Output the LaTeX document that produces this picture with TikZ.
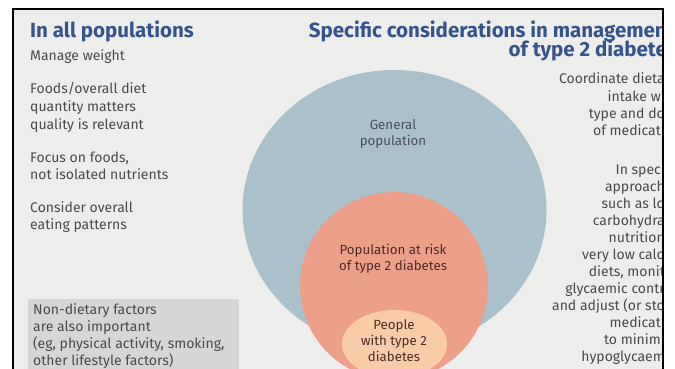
\documentclass[tikz,border=0pt]{standalone}
\usepackage{fontspec}
\setmainfont{Fira Sans}
\definecolor{panel}{HTML}{EDEDEB}
\definecolor{genpop}{HTML}{AAC0CA}
\definecolor{risk}{HTML}{ECA08A}
\definecolor{t2d}{HTML}{F8CCA8}
\definecolor{headblue}{HTML}{36548C}
\definecolor{txt}{HTML}{4A4A4A}
\definecolor{boxgrey}{HTML}{D6D6D4}
\definecolor{slate}{HTML}{46505A}
\definecolor{brown}{HTML}{4E2E24}
\begin{document}
\begin{tikzpicture}[x=1pt,y=-1pt,
  body/.style={font=\fontsize{14}{17.5}\selectfont, text=txt, inner sep=0pt},
  head/.style={font=\fontsize{20.5}{22}\selectfont\bfseries, text=headblue, inner sep=0pt},
  inlabel/.style={font=\fontsize{13.3}{16}\selectfont, align=center, inner sep=0pt}]
\useasboundingbox (0,0) rectangle (675,369);
\fill[white] (0,0) rectangle (675,369);
\fill[panel] (13,9) rectangle (663,380);
\begin{scope}
\clip (14,10) rectangle (662,380);
% nested population circles
\fill[genpop] (394.5,210) ellipse [x radius=152pt, y radius=140pt];
\fill[risk] (394,286) circle [radius=94pt];
\fill[t2d] (394.5,344) ellipse [x radius=52.5pt, y radius=34pt];
\node[inlabel, text=slate] (gen) at (393,134) {General\\population};
\node[inlabel, text=brown] (atrisk) at (393,259) {Population at risk\\of type 2 diabetes};
\node[inlabel, text=brown] (people) at (394,341) {People\\with type 2\\diabetes};
% left column
\node[head, anchor=base west] (lefthead) at (30,38) {In all populations};
\foreach \n/\yy/\t in {a/61/{Manage weight}, b/94/{Foods/overall diet},
  c/111.5/{quantity matters}, d/129/{quality is relevant},
  e/162/{Focus on foods,}, f/179.5/{not isolated nutrients},
  g/212/{Consider overall}, h/229.5/{eating patterns}}
  \node[body, anchor=base west] (l\n) at (30,\yy) {\t};
% grey note box
\fill[boxgrey] (28,299) rectangle (239,380);
\foreach \n/\yy/\t in {a/314/{Non-dietary factors}, b/331/{are also important},
  c/348/{(eg, physical activity, smoking,}, d/365/{other lifestyle factors)}}
  \node[body, anchor=base west] (n\n) at (33,\yy) {\t};
% right column
\node[head, anchor=base east] (righthead1) at (667,38) {Specific considerations in managemen};
\node[head, anchor=base east] (righthead2) at (667,57) {of type 2 diabete};
\foreach \n/\yy/\t in {a/84/{Coordinate dieta}, b/101/{intake wi}, c/118/{type and do},
  d/135/{of medicati},
  e/174/{In speci}, f/191/{approach}, g/208/{such as lo}, h/225/{carbohydra},
  i/242/{nutrition}, j/259/{very low calo}, k/276/{diets, monit},
  l/293/{glycaemic contr}, m/310/{and adjust (or sto}, n/327/{medicati},
  o/344/{to minimi}, p/361/{hypoglycaem}}
  \node[body, anchor=base east] (r\n) at (665,\yy) {\t};
\end{scope}
\draw[black, line width=2.5pt] (13,380) -- (13,9) -- (663,9) -- (663,380);
\end{tikzpicture}
\end{document}
